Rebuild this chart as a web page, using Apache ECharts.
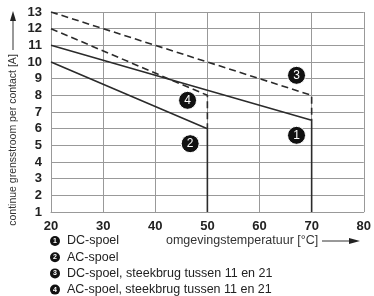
<!DOCTYPE html>
<html>
<head>
<meta charset="utf-8">
<script src="https://cdn.jsdelivr.net/npm/echarts@6/dist/echarts.min.js"></script>
<style>
  html, body { margin: 0; padding: 0; background: #fff; }
  #showChart { width: 374px; height: 296px; }
</style>
</head>
<body>
<div id="showChart"></div>
<script>
var chartOutChar = null;

// curves (temperature °C, current A)
var dcSpoel = [[20, 11], [70, 6.5], [70, 1]];
var acSpoel = [[20, 10], [50, 6], [50, 1]];
var dcBrug = [[20, 13], [70, 8], [70, 6.5]];
var acBrug = [[20, 12], [50, 8], [50, 6]];

// numbered badges on the curves
var badgeLabels = ['1', '2', '3', '4'];
var badgePos = [[67.1, 5.6], [46.7, 5.1], [67.1, 9.2], [46.2, 7.7]];

var legendTexts = [
    'DC-spoel',
    'AC-spoel',
    'DC-spoel, steekbrug tussen 11 en 21',
    'AC-spoel, steekbrug tussen 11 en 21'
];

var lineColor = '#2b2b2b';
var fontFam = '"Liberation Sans", Arial, sans-serif';

var badgeData = badgePos.map(function (p, i) {
    return {value: p, name: badgeLabels[i]};
});

var legendGraphics = [];
legendTexts.forEach(function (t, i) {
    var y = 241 + i * 16.2;
    legendGraphics.push({
        type: 'circle',
        shape: {cx: 55, cy: y, r: 5},
        style: {fill: '#111'}
    });
    legendGraphics.push({
        type: 'text',
        x: 55, y: y,
        style: {
            text: String(i + 1), fill: '#fff', font: 'bold 7px ' + fontFam,
            textAlign: 'center', textVerticalAlign: 'middle'
        }
    });
    legendGraphics.push({
        type: 'text',
        x: 67, y: y,
        style: {
            text: t, fill: '#222', font: '12.5px ' + fontFam,
            textAlign: 'left', textVerticalAlign: 'middle'
        }
    });
});

var option1 = {
    animation: false,
    grid: {left: 51, right: 8, top: 12, bottom: 84},
    xAxis: {
        type: 'value',
        min: 20, max: 80, interval: 10,
        axisLine: {show: true, lineStyle: {color: '#999', width: 1}},
        axisTick: {show: false},
        axisLabel: {margin: 8, color: '#222', fontWeight: 'bold', fontSize: 13, fontFamily: fontFam},
        splitLine: {show: true, lineStyle: {color: '#999', width: 1}}
    },
    yAxis: {
        type: 'value',
        min: 1, max: 13, interval: 1,
        axisLine: {show: true, lineStyle: {color: '#999', width: 1}},
        axisTick: {show: false},
        axisLabel: {margin: 9, color: '#222', fontWeight: 'bold', fontSize: 13, fontFamily: fontFam},
        splitLine: {show: true, lineStyle: {color: '#999', width: 1}}
    },
    graphic: [
        // y-axis title with arrow
        {
            type: 'text', x: 13, y: 140, rotation: Math.PI / 2,
            style: {
                text: 'continue grensstroom per contact [A]', fill: '#333',
                font: '10.5px ' + fontFam, textAlign: 'center', textVerticalAlign: 'middle'
            }
        },
        {type: 'line', shape: {x1: 13, y1: 50, x2: 13, y2: 20}, style: {stroke: '#333', lineWidth: 1}},
        {type: 'polygon', shape: {points: [[13, 11], [10, 21], [16, 21]]}, style: {fill: '#222'}},
        // x-axis title with arrow
        {
            type: 'text', x: 166, y: 241,
            style: {
                text: 'omgevingstemperatuur [°C]', fill: '#333',
                font: '12.5px ' + fontFam, textAlign: 'left', textVerticalAlign: 'middle'
            }
        },
        {type: 'line', shape: {x1: 322, y1: 241, x2: 350, y2: 241}, style: {stroke: '#333', lineWidth: 1}},
        {type: 'polygon', shape: {points: [[360, 241], [349, 238], [349, 244]]}, style: {fill: '#222'}}
    ].concat(legendGraphics),
    series: [
        {
            name: 'DC-spoel', type: 'line', data: dcSpoel, symbol: 'none',
            lineStyle: {color: lineColor, width: 1.6}
        },
        {
            name: 'AC-spoel', type: 'line', data: acSpoel, symbol: 'none',
            lineStyle: {color: lineColor, width: 1.6}
        },
        {
            name: 'DC-spoel, steekbrug', type: 'line', data: dcBrug, symbol: 'none',
            lineStyle: {color: lineColor, width: 1.6, type: [7, 4]}
        },
        {
            name: 'AC-spoel, steekbrug', type: 'line', data: acBrug, symbol: 'none',
            lineStyle: {color: lineColor, width: 1.6, type: [7, 4]}
        },
        {
            type: 'scatter', data: badgeData, symbol: 'circle', symbolSize: 18, z: 5,
            itemStyle: {color: '#111', opacity: 1, borderColor: '#fff', borderWidth: 1},
            label: {
                show: true, position: 'inside', formatter: '{b}',
                color: '#fff', fontSize: 12, fontFamily: fontFam
            }
        }
    ]
};

chartOutChar = echarts.init(document.getElementById('showChart'));
chartOutChar.setOption(option1);
</script>
</body>
</html>
